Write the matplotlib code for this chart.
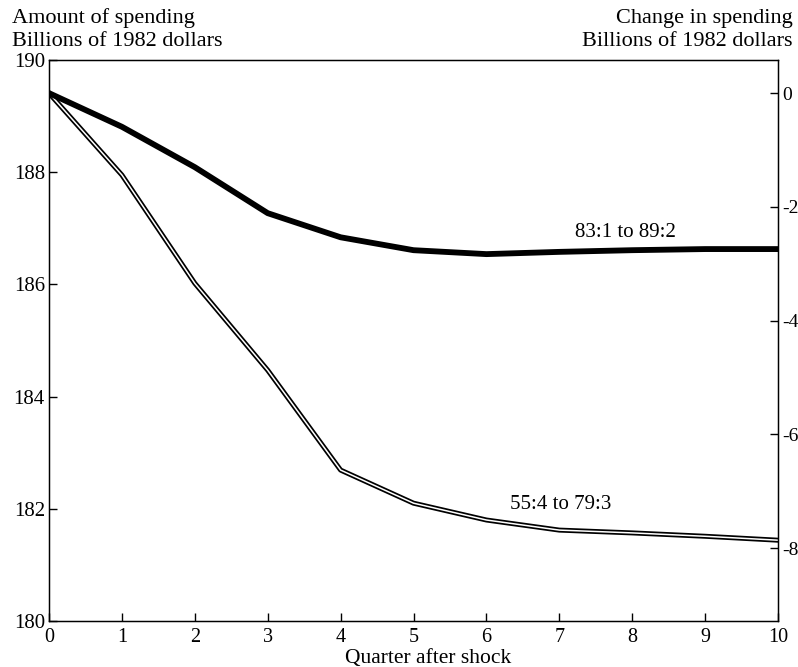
import matplotlib
matplotlib.use("Agg")
import matplotlib.pyplot as plt

quarters = [0, 1, 2, 3, 4, 5, 6, 7, 8, 9, 10]
recent = [189.41, 188.81, 188.09, 187.27, 186.84, 186.61, 186.54, 186.58, 186.61, 186.63, 186.63]
early = [189.41, 187.95, 186.02, 184.47, 182.69, 182.10, 181.80, 181.62, 181.57, 181.51, 181.44]
left_ticks = [180, 182, 184, 186, 188, 190]
right_ticks = [0, -2, -4, -6, -8]

plt.rcParams['font.family'] = ['Liberation Serif', 'DejaVu Serif']
fig = plt.figure(figsize=(7.98, 6.67), dpi=100)
ax = fig.add_axes([0.0614, 0.069, 0.9136, 0.841])
ax.plot(quarters, recent, color='black', lw=4.2, solid_capstyle='round', zorder=3)
ax.plot(quarters, early, color='black', lw=3.6, zorder=2)
ax.plot(quarters, early, color='white', lw=1.1, zorder=2.5)
ax.set_xlim(0, 10)
ax.set_ylim(180, 190)
ax.set_xticks(quarters)
ax.set_yticks(left_ticks)
ax.tick_params(direction='in', labelsize=15, length=6, width=1)
ax.tick_params(axis='x', labelsize=14.5, pad=5)
ax.tick_params(axis='y', pad=3)
for s in ax.spines.values():
    s.set_linewidth(1.0)

ax2 = ax.twinx()
ax2.set_ylim(-9.28, 0.58)
ax2.set_yticks(right_ticks)
ax2.set_yticklabels(['0', '-2', '-4', '-6', '-8'])
ax2.tick_params(direction='in', labelsize=14, length=6, width=1, pad=3)

ax.text(7.9, 186.85, '83:1 to 89:2', fontsize=15, ha='center', va='baseline')
ax.text(7.02, 182.0, '55:4 to 79:3', fontsize=15, ha='center', va='baseline')

fig.text(12/798, 1-18/667, 'Amount of spending', fontsize=16, ha='left', va='center')
fig.text(12/798, 1-41/667, 'Billions of 1982 dollars', fontsize=16, ha='left', va='center')
fig.text(793/798, 1-18/667, 'Change in spending', fontsize=16, ha='right', va='center')
fig.text(793/798, 1-41/667, 'Billions of 1982 dollars', fontsize=16, ha='right', va='center')
fig.text(428/798, 1-658/667, 'Quarter after shock', fontsize=15.5, ha='center', va='center')

fig.savefig('out.png', dpi=100)
